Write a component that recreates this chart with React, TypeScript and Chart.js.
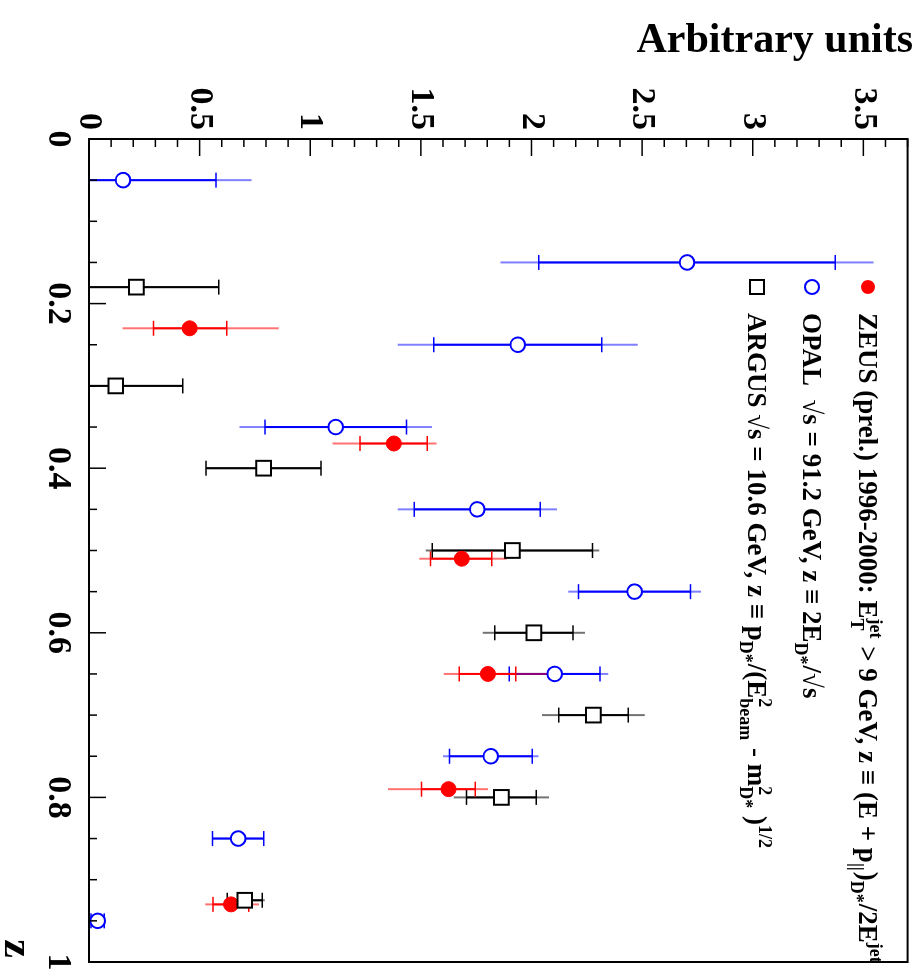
import React, { useEffect, useRef } from "react";
import { Chart, registerables } from "chart.js";
Chart.register(...registerables);

// ---- axis ticks ----
const Z_TICKS = [0, 0.2, 0.4, 0.6, 0.8, 1];
const Y_TICKS = [0, 0.5, 1, 1.5, 2, 2.5, 3, 3.5];
const Y_MAX = 3.7;

// ---- ZEUS (prel.) ----
const ZEUS_Z = [0.23, 0.37, 0.51, 0.65, 0.79, 0.93];
const ZEUS_Y = [0.455, 1.378, 1.685, 1.803, 1.625, 0.642];
const ZEUS_STAT_LO = [0.164, 0.153, 0.141, 0.129, 0.122, 0.082];
const ZEUS_STAT_HI = [0.168, 0.151, 0.135, 0.126, 0.121, 0.08];
const ZEUS_TOT_LO = [0.304, 0.277, 0.192, 0.199, 0.273, 0.116];
const ZEUS_TOT_HI = [0.403, 0.193, 0.203, 0.267, 0.179, 0.126];

// ---- OPAL ----
const OPAL_Z = [0.05, 0.15, 0.25, 0.35, 0.45, 0.55, 0.65, 0.75, 0.85, 0.95];
const OPAL_Y = [0.154, 2.703, 1.938, 1.115, 1.755, 2.466, 2.105, 1.816, 0.674, 0.039];
const OPAL_STAT = [0.42, 0.67, 0.38, 0.32, 0.285, 0.253, 0.205, 0.187, 0.116, 0.03];
const OPAL_TOT = [0.58, 0.843, 0.542, 0.435, 0.36, 0.3, 0.242, 0.216, 0.116, 0.03];

// ---- ARGUS ----
const ARGUS_Z = [0.18, 0.3, 0.4, 0.5, 0.6, 0.7, 0.8, 0.925];
const ARGUS_Y = [0.214, 0.121, 0.789, 1.914, 2.011, 2.28, 1.864, 0.704];
const ARGUS_STAT = [0.373, 0.303, 0.26, 0.362, 0.177, 0.157, 0.158, 0.079];
const ARGUS_TOT = [0.373, 0.303, 0.26, 0.392, 0.231, 0.232, 0.215, 0.09];

// ---- texts ----
const Y_TITLE = "Arbitrary units";
const X_TITLE = "z";
type Seg = { t?: string; sub?: string; sup?: string };
const ZEUS_LABEL: Seg[] = [
  { t: "ZEUS (prel.) 1996-2000: E" },
  { sub: "T", sup: "jet" },
  { t: " > 9 GeV, z \u2261 (E + p" },
  { sub: "||" },
  { t: ")" },
  { sub: "D*" },
  { t: "/2E" },
  { sup: "jet" },
];
const OPAL_LABEL: Seg[] = [
  { t: "OPAL  \u221As = 91.2 GeV, z \u2261 2E" },
  { sub: "D*" },
  { t: "/\u221As" },
];
const ARGUS_LABEL: Seg[] = [
  { t: "ARGUS \u221As = 10.6 GeV, z \u2261 p" },
  { sub: "D*" },
  { t: "/(E" },
  { sub: "beam", sup: "2" },
  { t: " - m" },
  { sub: "D*", sup: "2" },
  { t: " )" },
  { sup: "1/2" },
];

const FONT = "'Liberation Serif', 'Times New Roman', serif";
const RED = "#ff0000";
const BLUE = "#0000ff";
const BLACK = "#000000";

type Series = {
  z: number[];
  y: number[];
  sLo: number[];
  sHi: number[];
  tLo: number[];
  tHi: number[];
  color: string;
  light: string;
};

const SERIES: Series[] = [
  { z: OPAL_Z, y: OPAL_Y, sLo: OPAL_STAT, sHi: OPAL_STAT, tLo: OPAL_TOT, tHi: OPAL_TOT, color: BLUE, light: "rgba(0,0,255,0.5)" },
  { z: ARGUS_Z, y: ARGUS_Y, sLo: ARGUS_STAT, sHi: ARGUS_STAT, tLo: ARGUS_TOT, tHi: ARGUS_TOT, color: BLACK, light: "rgba(0,0,0,0.55)" },
  { z: ZEUS_Z, y: ZEUS_Y, sLo: ZEUS_STAT_LO, sHi: ZEUS_STAT_HI, tLo: ZEUS_TOT_LO, tHi: ZEUS_TOT_HI, color: RED, light: "rgba(255,0,0,0.55)" },
];

function line(ctx: CanvasRenderingContext2D, x1: number, y1: number, x2: number, y2: number) {
  ctx.beginPath();
  ctx.moveTo(x1, y1);
  ctx.lineTo(x2, y2);
  ctx.stroke();
}

const errorBars = {
  id: "errorBars",
  beforeDatasetsDraw(chart: any) {
    const { ctx, chartArea: a } = chart;
    const xs = chart.scales.x;
    const ys = chart.scales.y;
    ctx.save();
    ctx.beginPath();
    ctx.rect(a.left, a.top, a.right - a.left, a.bottom - a.top);
    ctx.clip();
    for (const s of SERIES) {
      s.z.forEach((z, i) => {
        const px = xs.getPixelForValue(z);
        const v = s.y[i];
        const tl = ys.getPixelForValue(v - s.tLo[i]);
        const th = ys.getPixelForValue(v + s.tHi[i]);
        const sl = ys.getPixelForValue(Math.max(0, v - s.sLo[i]));
        const sh = ys.getPixelForValue(v + s.sHi[i]);
        ctx.lineWidth = 2;
        ctx.strokeStyle = s.light;
        line(ctx, px, tl, px, th);
        ctx.strokeStyle = s.color;
        line(ctx, px, sl, px, sh);
        ctx.lineWidth = 1.5;
        line(ctx, px - 7.5, sl, px + 7.5, sl);
        line(ctx, px - 7.5, sh, px + 7.5, sh);
      });
    }
    ctx.restore();
  },
};

const frame = {
  id: "frame",
  afterDatasetsDraw(chart: any) {
    const { ctx, chartArea: a } = chart;
    const xs = chart.scales.x;
    const ys = chart.scales.y;
    ctx.save();
    ctx.strokeStyle = "#000";
    ctx.lineWidth = 1.5;
    for (let k = 0; k <= 20; k++) {
      const px = xs.getPixelForValue(k * 0.05);
      const len = k % 4 === 0 ? 17 : 8;
      line(ctx, px, a.bottom, px, a.bottom - len);
    }
    for (let k = 0; k <= 37; k++) {
      const py = ys.getPixelForValue(k * 0.1);
      const len = k % 5 === 0 ? 17 : 8;
      line(ctx, a.left, py, a.left + len, py);
    }
    ctx.lineWidth = 2;
    ctx.strokeRect(a.left, a.top, a.right - a.left, a.bottom - a.top);
    ctx.restore();
  },
};

function drawRich(ctx: CanvasRenderingContext2D, segs: Seg[], x: number, base: number, size: number) {
  const small = Math.round(size * 0.66);
  let cx = x;
  for (const s of segs) {
    if (s.t) {
      ctx.font = `bold ${size}px ${FONT}`;
      ctx.fillText(s.t, cx, base);
      cx += ctx.measureText(s.t).width;
    } else {
      ctx.font = `bold ${small}px ${FONT}`;
      let w = 0;
      if (s.sub) {
        ctx.fillText(s.sub, cx, base + size * 0.3);
        w = Math.max(w, ctx.measureText(s.sub).width);
      }
      if (s.sup) {
        ctx.fillText(s.sup, cx, base - size * 0.42);
        w = Math.max(w, ctx.measureText(s.sup).width);
      }
      cx += w + 1;
    }
  }
}

const legendAndTitles = {
  id: "legendAndTitles",
  afterDraw(chart: any) {
    const { ctx } = chart;
    ctx.save();
    ctx.fillStyle = "#000";
    ctx.textBaseline = "alphabetic";
    ctx.textAlign = "left";
    const rows: { segs: Seg[]; v: number; kind: string }[] = [
      { segs: ZEUS_LABEL, v: 52, kind: "zeus" },
      { segs: OPAL_LABEL, v: 108, kind: "opal" },
      { segs: ARGUS_LABEL, v: 163, kind: "argus" },
    ];
    const mx = 287;
    for (const r of rows) {
      if (r.kind === "zeus") {
        ctx.fillStyle = RED;
        ctx.beginPath();
        ctx.arc(mx, r.v, 7, 0, Math.PI * 2);
        ctx.fill();
      } else if (r.kind === "opal") {
        ctx.strokeStyle = BLUE;
        ctx.lineWidth = 2;
        ctx.beginPath();
        ctx.arc(mx, r.v, 7, 0, Math.PI * 2);
        ctx.stroke();
      } else {
        ctx.strokeStyle = BLACK;
        ctx.lineWidth = 2;
        ctx.strokeRect(mx - 7, r.v - 7, 14, 14);
      }
      ctx.fillStyle = "#000";
      drawRich(ctx, r.segs, 313, r.v + 9, 27);
    }
    // y title (rotated)
    ctx.save();
    ctx.translate(52, 7);
    ctx.rotate(-Math.PI / 2);
    ctx.textAlign = "right";
    ctx.font = `bold 42px ${FONT}`;
    ctx.fillText(Y_TITLE, 0, 0);
    ctx.restore();
    // x title
    ctx.textAlign = "right";
    ctx.font = `bold 42px ${FONT}`;
    ctx.fillText(X_TITLE, 958, 915);
    ctx.restore();
  },
};

export default function App() {
  const ref = useRef<HTMLCanvasElement | null>(null);
  useEffect(() => {
    if (!ref.current) return;
    const tickFont = { family: FONT, weight: "bold" as const, size: 34 };
    const chart = new Chart(ref.current, {
      type: "scatter",
      data: {
        datasets: [
          {
            label: "OPAL",
            data: OPAL_Z.map((z, i) => ({ x: z, y: OPAL_Y[i] })),
            pointStyle: "circle",
            pointRadius: 7.3,
            pointBackgroundColor: "#ffffff",
            pointBorderColor: BLUE,
            pointBorderWidth: 2,
            showLine: false,
          },
          {
            label: "ARGUS",
            data: ARGUS_Z.map((z, i) => ({ x: z, y: ARGUS_Y[i] })),
            pointStyle: "rect",
            pointRadius: 10.4,
            pointBackgroundColor: "#ffffff",
            pointBorderColor: BLACK,
            pointBorderWidth: 2,
            showLine: false,
          },
          {
            label: "ZEUS",
            data: ZEUS_Z.map((z, i) => ({ x: z, y: ZEUS_Y[i] })),
            pointStyle: "circle",
            pointRadius: 7.5,
            pointBackgroundColor: RED,
            pointBorderColor: RED,
            pointBorderWidth: 1,
            showLine: false,
          },
        ],
      },
      options: {
        animation: false,
        responsive: false,
        devicePixelRatio: 1,
        layout: { padding: { left: 0, right: 18, top: 8, bottom: 0 } },
        plugins: { legend: { display: false }, tooltip: { enabled: false } },
        scales: {
          x: {
            type: "linear",
            min: 0,
            max: 1,
            afterBuildTicks: (s: any) => {
              s.ticks = Z_TICKS.map((v) => ({ value: v }));
            },
            afterFit: (s: any) => {
              s.height = 89;
              s.paddingLeft = 0;
              s.paddingRight = 0;
            },
            grid: { display: false, drawTicks: false },
            border: { display: false },
            ticks: {
              font: tickFont,
              color: "#000",
              padding: 11,
              maxRotation: 0,
              minRotation: 0,
              autoSkip: false,
              callback: (v: any) => String(v),
            },
          },
          y: {
            type: "linear",
            min: 0,
            max: Y_MAX,
            afterBuildTicks: (s: any) => {
              s.ticks = Y_TICKS.map((v) => ({ value: v }));
            },
            afterFit: (s: any) => {
              s.width = 139;
              s.paddingTop = 0;
              s.paddingBottom = 0;
            },
            grid: { display: false, drawTicks: false },
            border: { display: false },
            ticks: {
              font: tickFont,
              color: "#000",
              padding: 9,
              autoSkip: false,
              callback: (v: any) => String(v),
            },
          },
        },
      },
      plugins: [errorBars, frame, legendAndTitles],
    });
    return () => chart.destroy();
  }, []);

  return (
    <div style={{ position: "absolute", left: 0, top: 0, width: 920, height: 980, overflow: "hidden", background: "#fff" }}>
      <canvas
        ref={ref}
        width={980}
        height={920}
        style={{
          position: "absolute",
          left: 0,
          top: 0,
          width: 980,
          height: 920,
          transformOrigin: "0 0",
          transform: "translate(920px, 0px) rotate(90deg)",
        }}
      />
    </div>
  );
}
